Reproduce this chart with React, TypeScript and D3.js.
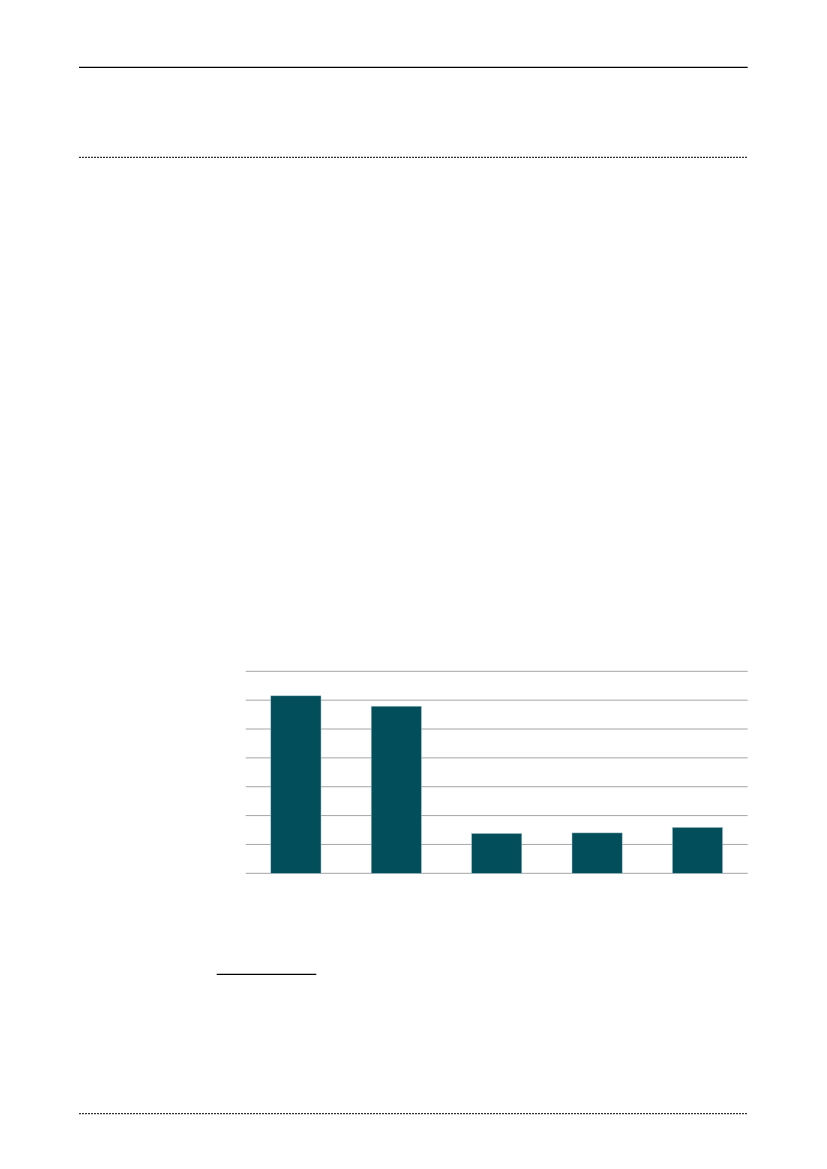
import * as d3 from "d3";
import { useEffect, useRef } from "react";

const WIDTH = 827;
const HEIGHT = 1169;

// plot frame
const PLOT = { left: 245.7, right: 747.7, top: 671.3, bottom: 873.3 };

const CATEGORIES = ["c1", "c2", "c3", "c4", "c5"];
const VALUES = [6.15, 5.79, 1.38, 1.4, 1.59];
const Y_TICKS = [0, 1, 2, 3, 4, 5, 6, 7];

const BAR_COLOR = "#024e5b";
const GRID_COLOR = "#a6a6a6";

export default function App() {
  const svgRef = useRef<SVGSVGElement>(null);

  useEffect(() => {
    if (!svgRef.current) return;

    const svg = d3.select(svgRef.current);
    svg.selectAll("*").remove();

    // page rules
    svg
      .append("line")
      .attr("x1", 79)
      .attr("x2", 747.7)
      .attr("y1", 67.3)
      .attr("y2", 67.3)
      .attr("stroke", "#000")
      .attr("stroke-width", 1.3);

    [157.3, 1113.7].forEach((yy) => {
      svg
        .append("line")
        .attr("x1", 79)
        .attr("x2", 747.7)
        .attr("y1", yy)
        .attr("y2", yy)
        .attr("stroke", "#000")
        .attr("stroke-width", 1)
        .attr("stroke-dasharray", "2,1");
    });

    // footnote rule
    svg
      .append("line")
      .attr("x1", 216.7)
      .attr("x2", 316.3)
      .attr("y1", 974.3)
      .attr("y2", 974.3)
      .attr("stroke", "#000")
      .attr("stroke-width", 1.3);

    // Escalas
    const x = d3
      .scaleBand()
      .domain(CATEGORIES)
      .range([PLOT.left, PLOT.right])
      .paddingInner(0.5)
      .paddingOuter(0.25);

    const y = d3
      .scaleLinear()
      .domain([0, 7])
      .range([PLOT.bottom, PLOT.top]);

    // gridlines
    svg
      .append("g")
      .selectAll("line")
      .data(Y_TICKS)
      .enter()
      .append("line")
      .attr("x1", PLOT.left)
      .attr("x2", PLOT.right)
      .attr("y1", (d) => y(d))
      .attr("y2", (d) => y(d))
      .attr("stroke", GRID_COLOR)
      .attr("stroke-width", 1);

    // barras
    svg
      .append("g")
      .selectAll("rect")
      .data(VALUES)
      .enter()
      .append("rect")
      .attr("x", (_, i) => x(CATEGORIES[i])!)
      .attr("y", (d) => y(d))
      .attr("width", x.bandwidth())
      .attr("height", (d) => y(0) - y(d))
      .attr("fill", BAR_COLOR)
      .attr("stroke", "#a9c6cb")
      .attr("stroke-width", 0.5);
  }, []);

  return (
    <svg
      ref={svgRef}
      width={WIDTH}
      height={HEIGHT}
      style={{ position: "absolute", left: 0, top: 0, background: "#fff" }}
    ></svg>
  );
}
